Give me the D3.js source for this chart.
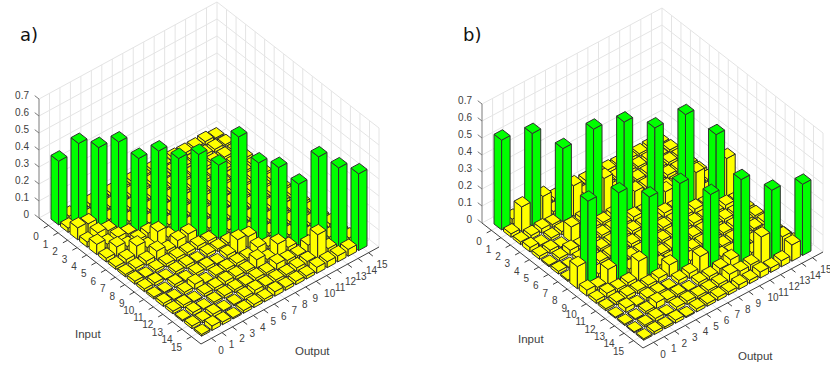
<!DOCTYPE html>
<html>
<head>
<meta charset="utf-8">
<script src="https://cdnjs.cloudflare.com/ajax/libs/d3/7.8.5/d3.min.js"></script>
<style>
    html, body { margin: 0; padding: 0; background: #fff; }
    svg { display: block; }
    text { font-family: "Liberation Sans", Arial, sans-serif; }
</style>
</head>
<body>
<svg id="chart" width="830" height="371"></svg>
<script>
let ticks = d3.range(0, 16);
let zTicks = [0, 0.1, 0.2, 0.3, 0.4, 0.5, 0.6, 0.7];

// panel a) green bars sit on the diagonal
let greenInA = [0, 1, 2, 3, 4, 5, 6, 7, 8, 9, 10, 11, 12, 13, 14, 15];
let greenOutA = [0, 1, 2, 3, 4, 5, 6, 7, 8, 9, 10, 11, 12, 13, 14, 15];
let greenValA = [.375, .489, .475, .518, .431, .485, .451, .485, .432, .608, .465, .448, .36, .531, .476, .451];

// panel b) green bars, shuffled outputs
let greenInB = [0, 1, 2, 3, 4, 5, 6, 7, 8, 9, 10, 11, 12, 13, 14, 15];
let greenOutB = [0, 2, 4, 6, 8, 10, 12, 14, 1, 3, 5, 7, 9, 11, 13, 15];
let greenValB = [.528, .544, .432, .523, .542, .484, .539, .398, .482, .508, .46, .516, .428, .493, .407, .419];

// yellow bars, row = input, column = output
let yellowA = [
    [0, .018, .016, .022, .012, .018, .016, .02, .016, .018, .012, .022, .018, .016, .02, .008],
    [.025, 0, .016, .018, .016, .012, .018, .016, .02, .012, .018, .016, .012, .018, .018, .012],
    [.07, .06, 0, .018, .016, .02, .012, .018, .016, .018, .016, .012, .018, .016, .016, .014],
    [.03, .05, .03, 0, .018, .016, .018, .012, .02, .016, .018, .016, .012, .018, .016, .018],
    [.06, .028, .035, .02, 0, .018, .016, .02, .016, .012, .018, .016, .018, .012, .016, .018],
    [.022, .055, .024, .028, .035, 0, .018, .016, .018, .02, .016, .012, .018, .016, .018, .016],
    [.016, .024, .07, .028, .088, .022, 0, .018, .016, .018, .012, .02, .016, .018, .016, .018],
    [.014, .018, .024, .05, .02, .045, .05, 0, .018, .016, .02, .012, .018, .016, .018, .016],
    [.018, .008, .016, .018, .02, .018, .022, .018, 0, .018, .016, .018, .012, .02, .016, .018],
    [.016, .018, .006, .016, .018, .008, .018, .016, .018, 0, .018, .016, .018, .018, .012, .016],
    [.012, .006, .018, .008, .016, .018, .006, .022, .08, .065, 0, .018, .016, .018, .02, .016],
    [.018, .008, .016, .03, .006, .016, .018, .018, .016, .045, .018, 0, .018, .016, .018, .02],
    [.016, .018, .006, .016, .018, .022, .018, .016, .05, .018, .075, .022, 0, .022, .018, .025],
    [.008, .018, .006, .012, .016, .018, .012, .018, .016, .035, .022, .016, .045, 0, .025, .024],
    [.016, .012, .018, .006, .008, .018, .024, .016, .018, .016, .022, .026, .15, .035, 0, .03],
    [.01, .026, .016, .008, .016, .018, .016, .026, .018, .02, .018, .035, .035, .035, .04, 0]
];

let yellowB = [
    [0, .03, .018, .026, .016, .02, .018, .016, .022, .018, .02, .016, .018, .016, .018, .01],
    [.02, .145, 0, .14, .018, .026, .018, .02, .016, .018, .016, .02, .016, .018, .012, .016],
    [.016, .02, .026, .018, 0, .18, .018, .016, .02, .018, .02, .016, .018, .016, .018, .016],
    [.026, .008, .016, .02, .018, .026, 0, .2, .018, .02, .016, .018, .016, .02, .018, .016],
    [.018, .02, .006, .09, .02, .018, .018, .026, 0, .1, .018, .016, .02, .016, .018, .018],
    [.008, .016, .03, .018, .02, .018, .02, .018, .026, .018, 0, .075, .018, .016, .018, .016],
    [.016, .006, .018, .02, .016, .018, .018, .02, .018, .016, .026, .018, 0, .165, .018, .016],
    [.008, .02, .006, .018, .018, .016, .02, .018, .016, .018, .018, .02, .026, .018, 0, .224],
    [.13, 0, .022, .018, .02, .018, .016, .02, .018, .016, .018, .02, .016, .018, .026, .018],
    [.035, .018, .09, 0, .026, .018, .02, .016, .018, .02, .018, .016, .018, .02, .018, .016],
    [.018, .026, .018, .022, .115, 0, .026, .018, .016, .02, .018, .018, .016, .018, .02, .018],
    [.012, .018, .02, .018, .018, .026, .07, 0, .03, .018, .02, .016, .018, .02, .018, .022],
    [.006, .026, .008, .02, .016, .006, .022, .03, .096, 0, .03, .018, .02, .018, .026, .018],
    [.008, .006, .016, .035, .018, .016, .006, .02, .022, .035, .055, 0, .03, .018, .026, .022],
    [.006, .012, .018, .006, .018, .02, .016, .018, .02, .045, .03, .035, .165, 0, .1, .03],
    [.008, .016, .012, .018, .006, .018, .016, .02, .018, .026, .02, .035, .026, .035, .095, 0]
];

let svg = d3.select("#chart");

function buildBars(panel, yellow, greenIn, greenOut, greenVal, corners) {
    let cols = corners;
    let uScale = d3.scaleLinear().domain([-1, 16]).range([0, 1]);
    let vScale = d3.scaleLinear().domain([-1, 16]).range([0, 1]);
    let zScale = d3.scaleLinear().domain([0, 0.7]).range([0, cols.zHeight]);

    // input runs left corner -> bottom corner, output runs bottom corner -> right corner
    let project = (i, j, z) => {
        let u = uScale(i), v = vScale(j);
        return [
            cols.left[0] + u * (cols.bottom[0] - cols.left[0]) + v * (cols.right[0] - cols.bottom[0]),
            cols.left[1] + u * (cols.bottom[1] - cols.left[1]) + v * (cols.right[1] - cols.bottom[1]) - zScale(z)
        ];
    };
    let line = d3.line();
    let poly = pts => line(pts) + "Z";

    // back walls and floor
    let grid = panel.append("g").attr("fill", "none").attr("stroke", "#e4e4e4").attr("stroke-width", 1);
    let gridLines = [];
    ticks.forEach(t => {
        gridLines.push([project(-1, t, 0), project(16, t, 0)]);
        gridLines.push([project(t, -1, 0), project(t, 16, 0)]);
        gridLines.push([project(-1, t, 0), project(-1, t, 0.7)]);
        gridLines.push([project(t, 16, 0), project(t, 16, 0.7)]);
    });
    zTicks.forEach(z => {
        gridLines.push([project(-1, -1, z), project(-1, 16, z)]);
        gridLines.push([project(-1, 16, z), project(16, 16, z)]);
    });
    gridLines.push([project(-1, 16, 0), project(-1, 16, 0.7)]);
    gridLines.push([project(16, 16, 0), project(16, 16, 0.7)]);
    grid.selectAll("path").data(gridLines).join("path").attr("d", d => line(d));

    // axes
    let axes = panel.append("g").attr("fill", "none").attr("stroke", "#404040").attr("stroke-width", 1);
    axes.append("path").attr("d", line([project(-1, -1, 0), project(16, -1, 0), project(16, 16, 0)]));
    axes.append("path").attr("stroke", "#7a7a7a").attr("d", line([project(-1, -1, 0), project(-1, -1, 0.7)]));
    axes.selectAll(".in-tick").data(ticks).join("path").attr("class", "in-tick")
        .attr("d", t => line([project(t, -1, 0), project(t, -1.45, 0)]));
    axes.selectAll(".out-tick").data(ticks).join("path").attr("class", "out-tick")
        .attr("d", t => line([project(16, t, 0), project(16.45, t, 0)]));
    axes.selectAll(".z-tick").data(zTicks).join("path").attr("class", "z-tick").attr("stroke", "#7a7a7a")
        .attr("d", z => line([project(-1, -1, z), project(-1.45, -1, z)]));

    // tick labels
    let labels = panel.append("g").attr("fill", "#404040").attr("font-size", 10).attr("text-anchor", "middle");
    labels.selectAll(".in-label").data(ticks).join("text").attr("class", "in-label")
        .attr("x", t => project(t, -1, 0)[0] + (t > 9 ? -15 : -12.5))
        .attr("y", t => project(t, -1, 0)[1] + (t > 9 ? 10.5 : 11.5) + 3.5)
        .text(t => t);
    labels.selectAll(".out-label").data(ticks).join("text").attr("class", "out-label")
        .attr("x", t => project(16, t, 0)[0] + (t > 9 ? 13.5 : 9.5))
        .attr("y", t => project(16, t, 0)[1] + 12 + 3.5)
        .text(t => t);
    labels.selectAll(".z-label").data(zTicks).join("text").attr("class", "z-label")
        .attr("text-anchor", "end")
        .attr("x", project(-1, -1, 0)[0] - 10)
        .attr("y", z => project(-1, -1, z)[1] - 3.2 + 3.5)
        .text(z => z);

    // every bar of the matrix, green ones go in their own cell
    let bars = [];
    yellow.forEach((row, i) => row.forEach((val, j) => bars.push({ i: i, j: j, val: val, colour: "#ffff00", edge: "#2a2a2a" })));
    greenIn.forEach((input, k) => {
        let bar = bars.find(b => b.i == input && b.j == greenOut[k]);
        bar.val = greenVal[k];
        bar.colour = "#00ff00";
        bar.edge = "#303030";
    });
    // painter's order, back corner first
    bars.sort((a, b) => (a.i - a.j) - (b.i - b.j) || a.i - b.i);

    let half = 0.4;
    let barGroups = panel.append("g").selectAll("g").data(bars).join("g")
        .attr("fill", d => d.colour)
        .attr("stroke", d => d.edge)
        .attr("stroke-width", 1)
        .attr("stroke-linejoin", "round");
    barGroups.append("path").attr("d", d => poly([
        project(d.i - half, d.j - half, d.val), project(d.i + half, d.j - half, d.val),
        project(d.i + half, d.j - half, 0), project(d.i - half, d.j - half, 0)
    ]));
    barGroups.append("path").attr("d", d => poly([
        project(d.i + half, d.j - half, d.val), project(d.i + half, d.j + half, d.val),
        project(d.i + half, d.j + half, 0), project(d.i + half, d.j - half, 0)
    ]));
    barGroups.append("path").attr("d", d => poly([
        project(d.i - half, d.j - half, d.val), project(d.i + half, d.j - half, d.val),
        project(d.i + half, d.j + half, d.val), project(d.i - half, d.j + half, d.val)
    ]));
}

function addText(x, y, str, size, colour, family) {
    svg.append("text").attr("x", x).attr("y", y).attr("font-size", size).attr("fill", colour)
        .style("font-family", family).text(str);
}

buildBars(svg.append("g"), yellowA, greenInA, greenOutA, greenValA,
    { left: [39, 218], bottom: [201, 344], right: [379, 247], zHeight: 119 });
buildBars(svg.append("g"), yellowB, greenInB, greenOutB, greenValB,
    { left: [482, 223], bottom: [643, 348], right: [823, 252], zHeight: 119 });

addText(20, 41, "a)", 18, "#111", "DejaVu Sans");
addText(463, 41, "b)", 18, "#111", "DejaVu Sans");
addText(75, 338, "Input", 11.5, "#404040", "Liberation Sans");
addText(295, 355, "Output", 11.5, "#404040", "Liberation Sans");
addText(518, 343, "Input", 11.5, "#404040", "Liberation Sans");
addText(738, 360, "Output", 11.5, "#404040", "Liberation Sans");
</script>
</body>
</html>
